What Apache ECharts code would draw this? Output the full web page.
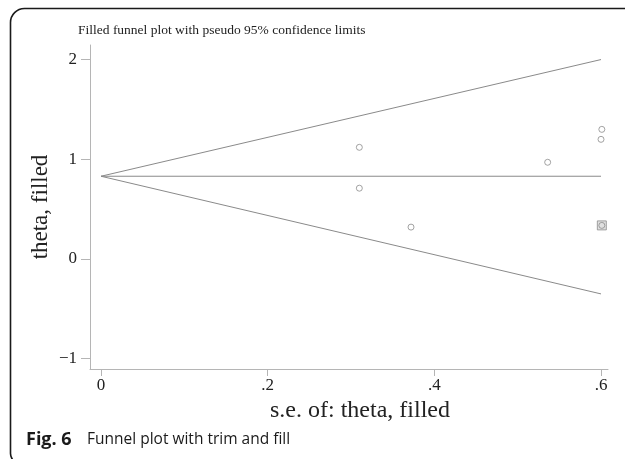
<!DOCTYPE html>
<html>
<head>
<meta charset="utf-8">
<script src="https://cdn.jsdelivr.net/npm/echarts@6/dist/echarts.min.js"></script>
<style>
  html, body { margin: 0; padding: 0; background: #fff; }
  #chart { width: 625px; height: 459px; }
</style>
</head>
<body>
<div id="chart"></div>
<script>
const studySe = [0.310, 0.310, 0.372, 0.536, 0.601, 0.600];
const studyTheta = [1.12, 0.71, 0.32, 0.97, 1.30, 1.20];
// filled (imputed) study
const filledSe = [0.601];
const filledTheta = [0.337];
// pooled estimate and pseudo 95% limits
const limitSe = [0, 0.6];
const pooledLine = [0.83, 0.83];
const upperLimit = [0.83, 2.0];
const lowerLimit = [0.83, -0.35];
const xTicks = [0, 0.2, 0.4, 0.6];
const yTicks = [-1, 0, 1, 2];

const serif = '"Liberation Serif", "DejaVu Serif", serif';
const lineGray = '#8a8a8a';
const axisGray = '#b5b5b5';

const toPairs = (xs, ys) => xs.map((x, i) => [x, ys[i]]);

const lineSeries = (data) => ({
  type: 'line',
  data: data,
  symbol: 'none',
  silent: true,
  lineStyle: { color: lineGray, width: 1 },
  z: 2
});

let chart = echarts.init(document.getElementById('chart'));

chart.setOption({
  backgroundColor: '#fff',
  animation: false,
  title: {
    text: 'Filled funnel plot with pseudo 95% confidence limits',
    left: 73,
    top: 18,
    textStyle: { fontFamily: serif, fontSize: 13.5, fontWeight: 'normal', color: '#222' }
  },
  grid: { left: 90, top: 45, width: 518, height: 324 },
  xAxis: {
    type: 'value',
    min: -0.0132,
    max: 0.6084,
    name: 's.e. of: theta, filled',
    nameLocation: 'middle',
    nameGap: 30,
    nameTextStyle: { fontFamily: serif, fontSize: 24, color: '#222', padding: [0, 0, 0, 22] },
    axisLine: { show: true, onZero: false, lineStyle: { color: axisGray, width: 1 } },
    axisTick: { show: true, length: 7, lineStyle: { color: axisGray }, customValues: xTicks },
    axisLabel: {
      fontFamily: serif, fontSize: 17, color: '#222', margin: 8,
      customValues: xTicks,
      formatter: (v) => v === 0 ? '0' : String(v).replace(/^0/, '')
    },
    splitLine: { show: false }
  },
  yAxis: {
    type: 'value',
    min: -1.103,
    max: 2.146,
    name: 'theta, filled',
    nameLocation: 'middle',
    nameGap: 38,
    nameMoveOverlap: false,
    nameRotate: 90,
    nameTextStyle: { fontFamily: serif, fontSize: 23, color: '#222' },
    axisLine: { show: true, onZero: false, lineStyle: { color: axisGray, width: 1 } },
    axisTick: { show: true, length: 9, lineStyle: { color: axisGray }, customValues: yTicks },
    axisLabel: {
      fontFamily: serif, fontSize: 17, color: '#222', margin: 13,
      customValues: yTicks,
      formatter: (v) => v < 0 ? '\u2212' + Math.abs(v) : String(v)
    },
    splitLine: { show: false }
  },
  series: [
    lineSeries(toPairs(limitSe, upperLimit)),
    lineSeries(toPairs(limitSe, pooledLine)),
    lineSeries(toPairs(limitSe, lowerLimit)),
    {
      type: 'scatter',
      data: toPairs(filledSe, filledTheta),
      symbol: 'rect',
      symbolSize: 9,
      itemStyle: { color: '#d8d8d8', borderColor: '#8c8c8c', borderWidth: 1 },
      z: 3
    },
    {
      type: 'scatter',
      data: toPairs(studySe, studyTheta).concat(toPairs(filledSe, filledTheta)),
      symbol: 'circle',
      symbolSize: 6,
      itemStyle: { color: 'rgba(255,255,255,0)', borderColor: '#8c8c8c', borderWidth: 1 },
      z: 4
    }
  ],
  graphic: [
    {
      type: 'rect',
      shape: { x: 10.5, y: 8.5, width: 700, height: 455, r: [14, 0, 0, 10] },
      style: { fill: 'none', stroke: '#1a1a1a', lineWidth: 1.6 },
      silent: true
    },
    {
      type: 'text',
      left: 26,
      top: 431,
      style: {
        text: '{b|Fig. 6}{n|Funnel plot with trim and fill}',
        rich: {
          b: { fontFamily: '"Open Sans", "Noto Sans", sans-serif', fontWeight: 'bold', fontSize: 18, fill: '#1a1a1a', width: 61 },
          n: { fontFamily: '"Liberation Sans Narrow", "Open Sans", sans-serif', fontSize: 15.5, fill: '#1a1a1a' }
        }
      }
    }
  ]
});
</script>
</body>
</html>
